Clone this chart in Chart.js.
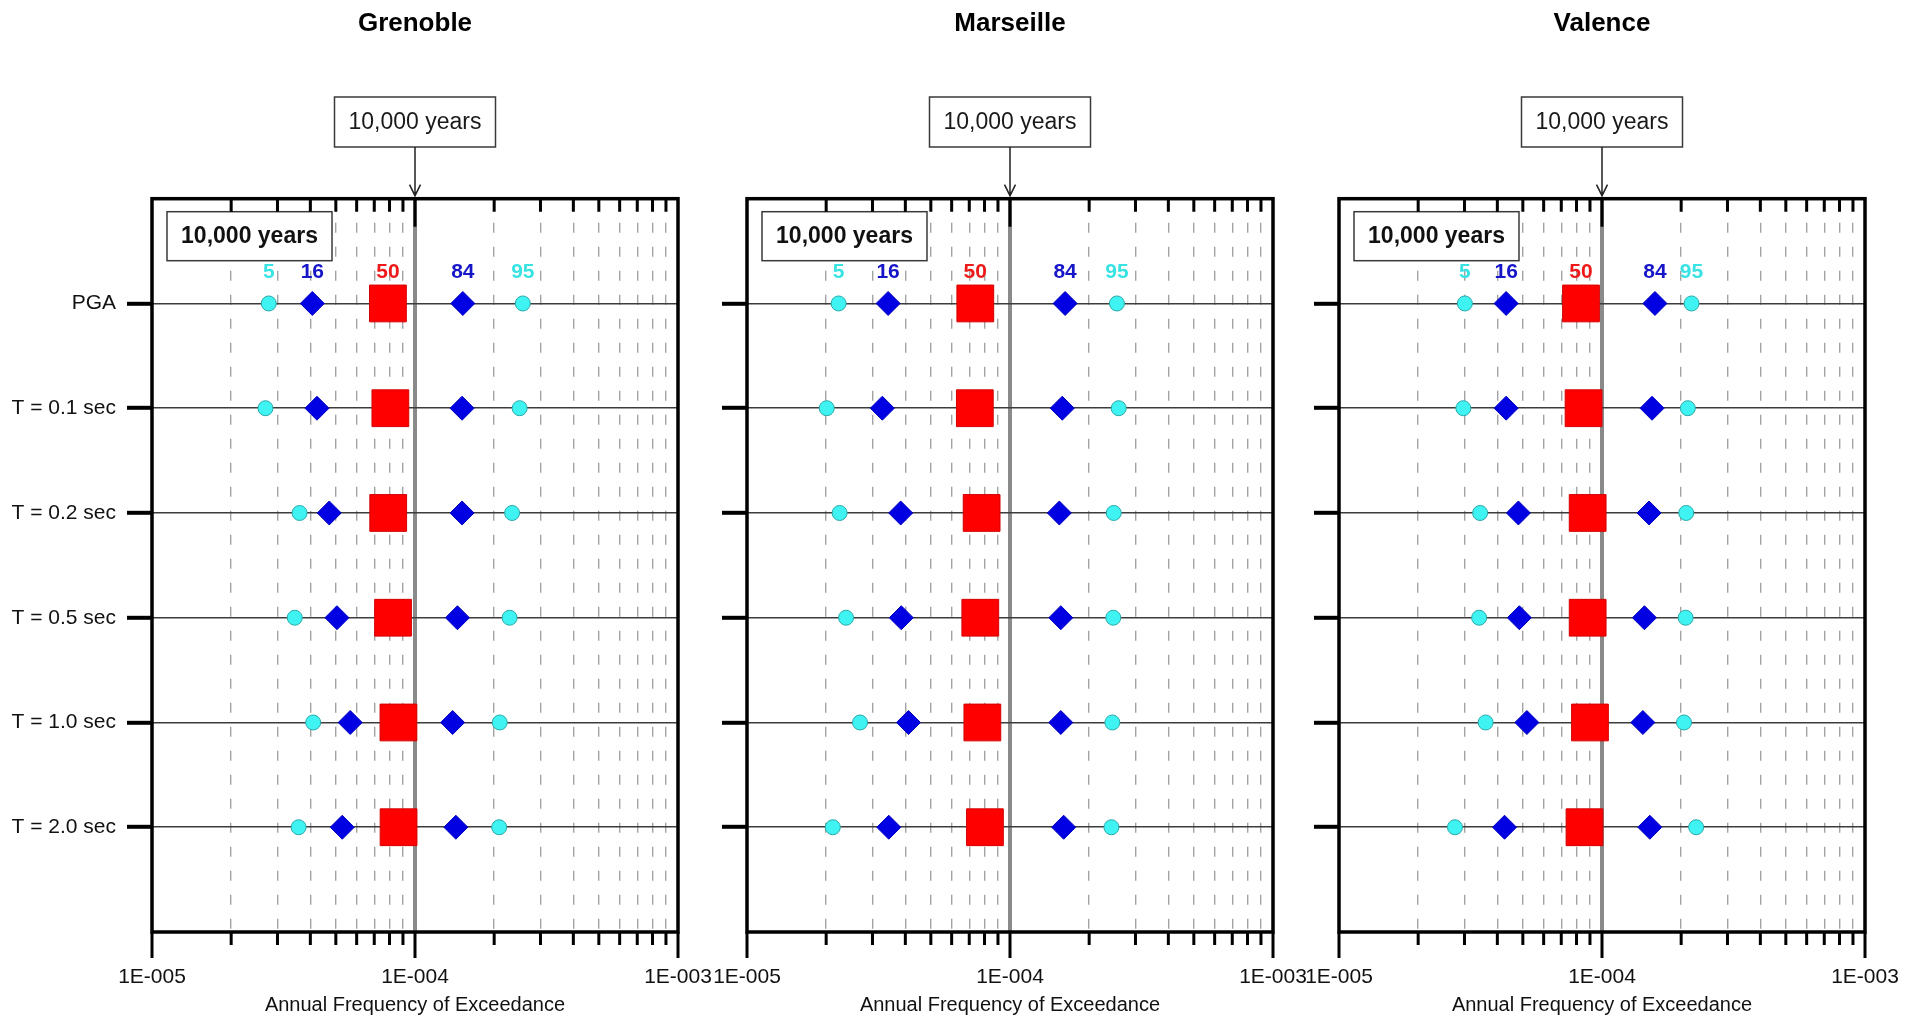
<!DOCTYPE html>
<html>
<head>
<meta charset="utf-8">
<title>Annual Frequency of Exceedance – 10,000 years</title>
<script src="https://cdn.jsdelivr.net/npm/chart.js@4.4.1/dist/chart.umd.min.js"></script>
<style>
  html, body { margin: 0; padding: 0; background: #fff; }
  #wrap { position: relative; width: 1917px; height: 1020px; overflow: hidden; background: #fff; }
  #wrap canvas { position: absolute; top: 0; }
</style>
</head>
<body>
<div id="wrap">
  <canvas id="panel0" width="718" height="1020" style="left:0px"></canvas>
  <canvas id="panel1" width="605" height="1020" style="left:708px"></canvas>
  <canvas id="panel2" width="617" height="1020" style="left:1300px"></canvas>
</div>
<script>
// ---- labels -------------------------------------------------------------
const sites = ['Grenoble', 'Marseille', 'Valence'];
const rowLabels = ['PGA', 'T = 0.1 sec', 'T = 0.2 sec', 'T = 0.5 sec', 'T = 1.0 sec', 'T = 2.0 sec'];
const percentileLabels = ['5', '16', '50', '84', '95'];
const returnPeriodText = '10,000 years';
const returnPeriodFreq = 1e-4;
const axisTitle = 'Annual Frequency of Exceedance';

// ---- x axis ticks -------------------------------------------------------
const decadeValues = [1e-5, 1e-4, 1e-3];
const decadeLabels = ['1E-005', '1E-004', '1E-003'];
const minorTickValues = [2e-5, 3e-5, 4e-5, 5e-5, 6e-5, 7e-5, 8e-5, 9e-5,
                         2e-4, 3e-4, 4e-4, 5e-4, 6e-4, 7e-4, 8e-4, 9e-4];

// ---- annual frequency of exceedance per percentile (rows follow rowLabels)
const grenobleP05 = [2.78e-5, 2.70e-5, 3.64e-5, 3.49e-5, 4.10e-5, 3.61e-5];
const grenobleP16 = [4.07e-5, 4.24e-5, 4.72e-5, 5.05e-5, 5.67e-5, 5.29e-5];
const grenobleP50 = [7.89e-5, 8.06e-5, 7.91e-5, 8.25e-5, 8.65e-5, 8.66e-5];
const grenobleP84 = [1.52e-4, 1.51e-4, 1.51e-4, 1.45e-4, 1.39e-4, 1.43e-4];
const grenobleP95 = [2.57e-4, 2.50e-4, 2.34e-4, 2.29e-4, 2.10e-4, 2.09e-4];

const marseilleP05 = [2.23e-5, 2.01e-5, 2.25e-5, 2.38e-5, 2.69e-5, 2.12e-5];
const marseilleP16 = [3.44e-5, 3.27e-5, 3.84e-5, 3.86e-5, 4.11e-5, 3.46e-5];
const marseilleP50 = [7.38e-5, 7.35e-5, 7.80e-5, 7.71e-5, 7.85e-5, 8.03e-5];
const marseilleP84 = [1.62e-4, 1.58e-4, 1.54e-4, 1.56e-4, 1.56e-4, 1.60e-4];
const marseilleP95 = [2.55e-4, 2.59e-4, 2.48e-4, 2.47e-4, 2.45e-4, 2.43e-4];

const valenceP05 = [3.01e-5, 2.97e-5, 3.44e-5, 3.41e-5, 3.61e-5, 2.76e-5];
const valenceP16 = [4.32e-5, 4.32e-5, 4.81e-5, 4.85e-5, 5.18e-5, 4.26e-5];
const valenceP50 = [8.32e-5, 8.51e-5, 8.82e-5, 8.82e-5, 9.00e-5, 8.58e-5];
const valenceP84 = [1.59e-4, 1.55e-4, 1.51e-4, 1.45e-4, 1.43e-4, 1.52e-4];
const valenceP95 = [2.19e-4, 2.12e-4, 2.09e-4, 2.08e-4, 2.05e-4, 2.28e-4];

const siteSeries = [
  [grenobleP05, grenobleP16, grenobleP50, grenobleP84, grenobleP95],
  [marseilleP05, marseilleP16, marseilleP50, marseilleP84, marseilleP95],
  [valenceP05, valenceP16, valenceP50, valenceP84, valenceP95]
];

// ---- styling ------------------------------------------------------------
const FONT = "'Liberation Sans', Arial, Helvetica, sans-serif";
Chart.defaults.font.family = FONT;
Chart.defaults.color = '#111';

const markerStyles = [
  { pointStyle: 'circle',  radius: 7.5,  fill: '#3ff3f3', stroke: '#2aa9a9', text: '#39e3e3' },
  { pointStyle: 'rectRot', radius: 12,   fill: '#0000e2', stroke: '#0000c0', text: '#1616c8' },
  { pointStyle: 'rect',    radius: 26,   fill: '#ff0000', stroke: '#d40000', text: '#ee1a1a' },
  { pointStyle: 'rectRot', radius: 12,   fill: '#0000e2', stroke: '#0000c0', text: '#1616c8' },
  { pointStyle: 'circle',  radius: 7.5,  fill: '#3ff3f3', stroke: '#2aa9a9', text: '#39e3e3' }
];

// per-panel box sizes around the plotting area
const panelLayout = [
  { yWidth: 152, rightWidth: 40, rowLabels: true },
  { yWidth: 39,  rightWidth: 40, rowLabels: false },
  { yWidth: 39,  rightWidth: 52, rowLabels: false }
];

const xTickValues = decadeValues.concat(minorTickValues).sort((a, b) => a - b);
const isDecade = v => Math.abs(Math.log10(v) - Math.round(Math.log10(v))) < 1e-9;
const sameValue = (a, b) => Math.abs(a - b) / b < 1e-9;

// frame, tick marks, percentile captions and the 10,000-year call-outs
const annotationPlugin = {
  id: 'returnPeriodNotes',
  afterDatasetsDraw(chart) {
    const ctx = chart.ctx;
    ctx.save();
    ctx.font = 'bold 21px ' + FONT;
    ctx.textAlign = 'center';
    ctx.textBaseline = 'middle';
    chart.data.datasets.forEach((ds, i) => {
      const pt = chart.getDatasetMeta(i).data[0];
      ctx.fillStyle = markerStyles[i].text;
      ctx.fillText(ds.label, pt.x, pt.y - 31);
    });
    ctx.restore();
  },
  afterDraw(chart) {
    const ctx = chart.ctx;
    const a = chart.chartArea;
    const x = chart.scales.x;
    const xr = Math.round(x.getPixelForValue(returnPeriodFreq));
    ctx.save();

    // boxed caption inside the plot
    ctx.fillStyle = '#fff';
    ctx.strokeStyle = '#3a3a3a';
    ctx.lineWidth = 1.5;
    ctx.fillRect(a.left + 15, a.top + 13, 165, 49);
    ctx.strokeRect(a.left + 15, a.top + 13, 165, 49);
    ctx.fillStyle = '#111';
    ctx.font = 'bold 23px ' + FONT;
    ctx.textAlign = 'center';
    ctx.textBaseline = 'middle';
    ctx.fillText(returnPeriodText, a.left + 97.5, a.top + 38);

    // heavy frame
    ctx.strokeStyle = '#000';
    ctx.lineWidth = 3.5;
    ctx.strokeRect(a.left, a.top, a.right - a.left, a.bottom - a.top);

    // tick marks: outward at the bottom, inward at the top
    ctx.lineWidth = 3;
    ctx.beginPath();
    xTickValues.forEach((v, i) => {
      const px = x.getPixelForValue(v);
      const major = isDecade(v);
      ctx.moveTo(px, a.bottom);
      ctx.lineTo(px, a.bottom + (major ? 26 : 13));
      if (i > 0 && i < xTickValues.length - 1) {
        ctx.moveTo(px, a.top);
        ctx.lineTo(px, a.top + (major ? 28 : 13));
      }
    });
    ctx.stroke();

    // call-out box above the plot with arrow to the 1E-004 line
    const bw = 161, bh = 50, bt = 97;
    ctx.fillStyle = '#fff';
    ctx.strokeStyle = '#3a3a3a';
    ctx.lineWidth = 1.5;
    ctx.fillRect(xr - bw / 2, bt, bw, bh);
    ctx.strokeRect(xr - bw / 2, bt, bw, bh);
    ctx.fillStyle = '#1a1a1a';
    ctx.font = '23px ' + FONT;
    ctx.fillText(returnPeriodText, xr, bt + bh / 2 + 1);

    ctx.strokeStyle = '#222';
    ctx.lineWidth = 1.5;
    ctx.beginPath();
    ctx.moveTo(xr, bt + bh);
    ctx.lineTo(xr, a.top - 3);
    ctx.moveTo(xr - 5.5, a.top - 14);
    ctx.lineTo(xr, a.top - 3);
    ctx.lineTo(xr + 5.5, a.top - 14);
    ctx.stroke();

    ctx.restore();
  }
};

function buildPanel(p) {
  const lay = panelLayout[p];
  const datasets = percentileLabels.map((lab, k) => ({
    label: lab,
    data: siteSeries[p][k].map((v, r) => ({ x: v, y: r + 1 })),
    pointStyle: markerStyles[k].pointStyle,
    pointRadius: markerStyles[k].radius,
    pointHoverRadius: markerStyles[k].radius,
    pointBackgroundColor: markerStyles[k].fill,
    pointBorderColor: markerStyles[k].stroke,
    pointBorderWidth: 1,
    backgroundColor: markerStyles[k].fill,
    borderColor: markerStyles[k].stroke,
    showLine: false
  }));

  return new Chart(document.getElementById('panel' + p), {
    type: 'scatter',
    data: { datasets },
    plugins: [annotationPlugin],
    options: {
      responsive: false,
      animation: false,
      devicePixelRatio: 1,
      events: [],
      layout: { padding: 0 },
      plugins: {
        legend: { display: false },
        tooltip: { enabled: false },
        title: {
          display: true,
          text: sites[p],
          fullSize: false,
          color: '#000',
          font: { size: 26, weight: 'bold', lineHeight: 1.2 },
          padding: { top: 8.5, bottom: 159 }
        }
      },
      scales: {
        x: {
          type: 'logarithmic',
          position: 'bottom',
          min: decadeValues[0],
          max: decadeValues[decadeValues.length - 1],
          afterBuildTicks: s => { s.ticks = xTickValues.map(v => ({ value: v, major: isDecade(v) })); },
          afterFit: s => { s.height = 88; },
          ticks: {
            autoSkip: false, maxRotation: 0, minRotation: 0, padding: 0,
            color: '#111', font: { size: 21 },
            callback: v => {
              const k = decadeValues.findIndex(d => sameValue(v, d));
              return k >= 0 ? decadeLabels[k] : '';
            }
          },
          grid: {
            drawTicks: true,
            tickLength: 33,
            tickColor: 'rgba(0,0,0,0)',
            color: c => {
              if (!c.tick) return 'rgba(0,0,0,0)';
              const v = c.tick.value;
              if (sameValue(v, decadeValues[0]) || sameValue(v, decadeValues[decadeValues.length - 1])) return 'rgba(0,0,0,0)';
              if (sameValue(v, returnPeriodFreq)) return '#8a8a8a';
              return '#a3a3a3';
            },
            lineWidth: c => (c.tick && sameValue(c.tick.value, returnPeriodFreq)) ? 4 : 1.4
          },
          border: {
            display: false,
            dash: c => (c.tick && !isDecade(c.tick.value)) ? [10, 14] : []
          },
          title: {
            display: true,
            text: axisTitle,
            color: '#111',
            font: { size: 20, lineHeight: 1.2 },
            padding: { top: 0, bottom: 3 }
          }
        },
        y: {
          type: 'linear',
          position: 'left',
          min: 0,
          max: rowLabels.length + 1,
          reverse: true,
          afterBuildTicks: s => { s.ticks = rowLabels.map((_, i) => ({ value: i + 1 })); },
          afterFit: s => { s.width = lay.yWidth; },
          ticks: {
            autoSkip: false, padding: 11, color: '#111', font: { size: 21 },
            callback: v => lay.rowLabels ? rowLabels[v - 1] : ''
          },
          grid: {
            color: '#3c3c3c', lineWidth: 1.6,
            drawTicks: true, tickLength: 25, tickWidth: 4, tickColor: '#000'
          },
          border: { display: false, dash: [] }
        },
        yRight: {
          type: 'linear',
          axis: 'y',
          position: 'right',
          afterFit: s => { s.width = lay.rightWidth; },
          ticks: { display: false },
          grid: { display: false, drawTicks: false },
          border: { display: false }
        }
      }
    }
  });
}

sites.forEach((_, p) => buildPanel(p));
</script>
</body>
</html>
